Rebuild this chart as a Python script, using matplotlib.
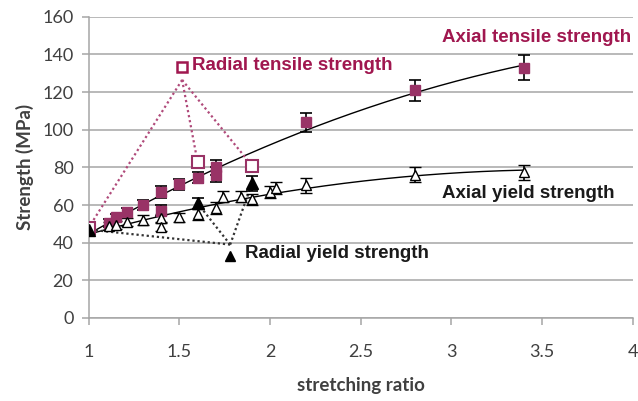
import numpy as np
import matplotlib
matplotlib.use("Agg")
import matplotlib.pyplot as plt

# Axial tensile strength (filled squares)
at_x = [1.0, 1.11, 1.15, 1.21, 1.30, 1.40, 1.40, 1.50, 1.60, 1.70, 1.70, 2.2, 2.8, 3.4]
at_y = [48, 50.5, 53.5, 56.5, 60, 67, 57, 71, 74.5, 80, 76, 104, 121, 133]
at_err = [2, 2, 2, 2, 2.5, 3, 3, 3, 3, 4, 4, 5, 5.5, 6.5]

# Axial yield strength (open triangles)
ay_x = [1.0, 1.11, 1.15, 1.21, 1.30, 1.40, 1.40, 1.50, 1.60, 1.70, 1.74, 1.84, 1.90, 2.0, 2.03, 2.2, 2.8, 3.4]
ay_y = [47, 49, 49.5, 51, 52, 53, 48.5, 53.5, 55, 58.5, 64.5, 64.5, 63, 67, 69, 70.5, 76, 77.5]
ay_err = [2, 2, 2, 2, 2.5, 2.5, 2.5, 2.5, 3, 3, 3, 3, 3, 3, 3, 4, 4, 4]

# Radial tensile strength (open squares)
rt_x = [1.0, 1.6, 1.9]
rt_y = [48, 83, 81]

# Radial yield strength (filled triangles)
ry_x = [1.0, 1.6, 1.9]
ry_y = [47, 61, 71.5]
ry_err = [2, 3, 4]

x_ticks = [1, 1.5, 2, 2.5, 3, 3.5, 4]
y_ticks = [0, 20, 40, 60, 80, 100, 120, 140, 160]

PURPLE = "#993366"
PURPLE_TXT = "#a0174f"
GRID = "#a6a6a6"

fig = plt.figure(figsize=(6.38, 4.01), dpi=100)
ax = fig.add_axes([0.139, 0.207, 0.853, 0.751])

ax.set_xlim(1, 4)
ax.set_ylim(0, 160)
ax.set_xticks(x_ticks)
ax.set_xticklabels(["1", "1.5", "2", "2.5", "3", "3.5", "4"])
ax.set_yticks(y_ticks)
ax.yaxis.grid(True, color=GRID, linewidth=1.1)
ax.set_axisbelow(True)
for s in ["top", "right"]:
    ax.spines[s].set_visible(False)
for s in ["left", "bottom"]:
    ax.spines[s].set_color(GRID)
    ax.spines[s].set_linewidth(1.1)
    ax.spines[s].set_zorder(0.5)
ax.tick_params(axis="both", direction="out", length=5, width=1.1, color=GRID,
               labelsize=13, labelcolor="#404040", pad=6)
ax.tick_params(axis="x", pad=14)
for lab in ax.get_xticklabels() + ax.get_yticklabels():
    lab.set_family("Lato")

ax.set_xlabel("stretching ratio", family="Lato", fontweight="bold", fontsize=13.5,
              color="#404040", labelpad=12)
ax.set_ylabel("Strength (MPa)", family="Lato", fontweight="bold", fontsize=13.5,
              color="#404040", labelpad=6)

# Quadratic trend lines through the axial series
xs = np.linspace(1.0, 3.4, 200)
pt = np.polyfit(at_x, at_y, 2)
py = np.polyfit(ay_x, ay_y, 2)
ax.plot(xs, np.polyval(pt, xs), color="black", lw=1.0, zorder=2)
ax.plot(xs, np.polyval(py, xs), color="black", lw=1.0, zorder=2)

# Leader lines from the series labels
rt_anchor = (1.515, 126.5)
ry_anchor = (1.78, 39.0)
for x, y in zip(rt_x, rt_y):
    ax.plot([rt_anchor[0], x], [rt_anchor[1], y], color="#b04a7a", lw=1.6,
            linestyle=(0, (1, 1.3)), zorder=2)
for x, y in zip(ry_x, ry_y):
    ax.plot([ry_anchor[0], x], [ry_anchor[1], y], color="#333333", lw=1.6,
            linestyle=(0, (1, 1.3)), zorder=2)

eb = dict(ecolor="black", elinewidth=1.2, capsize=4.5, capthick=1.2, linestyle="none")
ax.errorbar(at_x, at_y, yerr=at_err, marker="s", ms=7, mfc=PURPLE, mec=PURPLE,
            zorder=3, **eb)
ax.errorbar(ay_x, ay_y, yerr=ay_err, marker="^", ms=7, mfc="white", mec="black",
            mew=1.0, zorder=3, **eb)
ax.errorbar(ry_x, ry_y, yerr=ry_err, marker="^", ms=8, mfc="black", mec="black",
            zorder=4, **eb)
ax.plot(rt_x, rt_y, "s", ms=8, mfc="white", mec=PURPLE, mew=1.5, linestyle="none",
        zorder=4)

# Series labels
lbl = dict(fontsize=13.5, fontweight="bold", family="Liberation Sans",
           va="center", ha="left")
ax.plot([1.515], [133.5], "s", ms=7, mfc="white", mec=PURPLE_TXT, mew=1.8, zorder=5,
        clip_on=False)
ax.text(1.572, 134, "Radial tensile strength", color=PURPLE_TXT, **lbl)
ax.text(2.95, 149, "Axial tensile strength", color=PURPLE_TXT, clip_on=False, **lbl)
ax.text(2.95, 66, "Axial yield strength", color="#1a1a1a", **lbl)
ax.plot([1.78], [33], "^", ms=7, mfc="black", mec="black", zorder=5)
ax.text(1.862, 34, "Radial yield strength", color="#1a1a1a", **lbl)

fig.savefig("out.png", dpi=100)
